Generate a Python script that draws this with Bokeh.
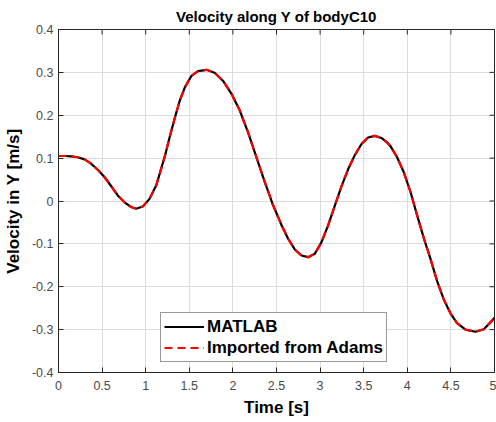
import math
from bokeh.plotting import figure
from bokeh.models import FixedTicker, Legend, LegendItem, Range1d
from bokeh.embed import file_html
from bokeh.resources import INLINE

title_text = "Velocity along Y of bodyC10"
x_label = "Time [s]"
y_label = "Velocity in Y [m/s]"
series_names = ["MATLAB", "Imported from Adams"]

time_s = [0.0, 0.08, 0.145, 0.22, 0.30, 0.374, 0.45, 0.527, 0.603, 0.68,
          0.757, 0.833, 0.89, 0.967, 1.044, 1.12, 1.196, 1.219, 1.276, 1.334,
          1.391, 1.449, 1.525, 1.60, 1.697, 1.79, 1.888, 1.984, 2.079, 2.174,
          2.27, 2.366, 2.461, 2.518, 2.557, 2.633, 2.71, 2.787, 2.862, 2.94,
          3.016, 3.092, 3.169, 3.245, 3.321, 3.398, 3.475, 3.55, 3.627, 3.704,
          3.76, 3.807, 3.883, 3.96, 4.037, 4.112, 4.19, 4.266, 4.342, 4.419,
          4.495, 4.571, 4.668, 4.782, 4.877, 4.972, 5.0]
vel_matlab = [0.105, 0.105, 0.104, 0.102, 0.097, 0.087, 0.073, 0.056, 0.035,
              0.013, -0.003, -0.014, -0.018, -0.013, 0.005, 0.036, 0.088,
              0.104, 0.150, 0.194, 0.234, 0.265, 0.292, 0.303, 0.306, 0.299,
              0.280, 0.250, 0.211, 0.160, 0.102, 0.044, -0.010, -0.037,
              -0.056, -0.088, -0.113, -0.127, -0.131, -0.123, -0.096, -0.057,
              -0.011, 0.034, 0.074, 0.107, 0.133, 0.148, 0.152, 0.147, 0.138,
              0.128, 0.102, 0.067, 0.021, -0.033, -0.087, -0.135, -0.187,
              -0.230, -0.262, -0.285, -0.300, -0.305, -0.299, -0.279, -0.272]
vel_adams = list(vel_matlab)

x_ticks = [0, 0.5, 1, 1.5, 2, 2.5, 3, 3.5, 4, 4.5, 5]
x_tick_labels = ["0", "0.5", "1", "1.5", "2", "2.5", "3", "3.5", "4", "4.5", "5"]
y_ticks = [-0.4, -0.3, -0.2, -0.1, 0, 0.1, 0.2, 0.3, 0.4]
y_tick_labels = ["-0.4", "-0.3", "-0.2", "-0.1", "0", "0.1", "0.2", "0.3", "0.4"]

FONT = "Liberation Sans"
AX = "#262626"
LBL = "#4a4a4a"

x_lo, x_hi = x_ticks[0], x_ticks[-1]
y_lo, y_hi = y_ticks[0], y_ticks[-1]

p = figure(width=496, height=422, output_backend="svg", toolbar_location=None,
           x_range=Range1d(x_lo, x_hi), y_range=Range1d(y_lo, y_hi),
           min_border_left=58, min_border_right=2, min_border_top=29,
           min_border_bottom=50)
p.title.text = title_text
p.title.align = "center"
p.title.text_font = FONT
p.title.text_font_size = "15px"
p.title.text_font_style = "bold"
p.title.text_color = "black"

p.outline_line_color = AX
p.background_fill_color = "white"
p.border_fill_color = "white"

p.xaxis.ticker = FixedTicker(ticks=x_ticks)
p.yaxis.ticker = FixedTicker(ticks=y_ticks)
p.xaxis.major_label_overrides = {t: l for t, l in zip(x_ticks, x_tick_labels)}
p.yaxis.major_label_overrides = {t: l for t, l in zip(y_ticks, y_tick_labels)}
p.xaxis.axis_label = x_label
p.yaxis.axis_label = y_label
for ax in (p.xaxis, p.yaxis):
    ax.axis_label_text_font = FONT
    ax.axis_label_text_font_size = "17px"
    ax.axis_label_text_font_style = "bold"
    ax.axis_label_text_color = "black"
    ax.major_label_text_font = FONT
    ax.major_label_text_font_size = "12.5px"
    ax.major_label_text_color = LBL
    ax.major_tick_in = 5
    ax.major_tick_out = 0
    ax.minor_tick_line_color = None
    ax.axis_line_color = AX
    ax.major_tick_line_color = AX
p.xaxis.major_label_standoff = 8
p.yaxis.major_label_standoff = 5
p.xaxis.axis_label_standoff = 5
p.yaxis.axis_label_standoff = 6

p.grid.grid_line_color = "#dcdcdc"
p.grid.grid_line_width = 1
p.xgrid.ticker = FixedTicker(ticks=x_ticks)
p.ygrid.ticker = FixedTicker(ticks=y_ticks)

# inward ticks on the top and right box edges
p.ray(x=x_ticks, y=[y_hi] * len(x_ticks), length=5, length_units="screen",
      angle=-math.pi / 2, line_color=AX, line_width=1)
p.ray(x=[x_hi] * len(y_ticks), y=y_ticks, length=5, length_units="screen",
      angle=math.pi, line_color=AX, line_width=1)

r1 = p.line(time_s, vel_matlab, line_color="black", line_width=2.2)
r2 = p.line(time_s, vel_adams, line_color="#ff0000", line_width=2.2,
            line_dash="8 5")

legend = Legend(items=[LegendItem(label=series_names[0], renderers=[r1]),
                       LegendItem(label=series_names[1], renderers=[r2])],
                location=(102, 10))
legend.label_text_font = FONT
legend.label_text_font_size = "17px"
legend.label_text_font_style = "bold"
legend.label_text_color = "black"
legend.border_line_color = "#333333"
legend.border_line_width = 1
legend.background_fill_alpha = 1
legend.glyph_width = 40
legend.glyph_height = 21
legend.label_height = 21
legend.label_standoff = 3
legend.padding = 3
legend.spacing = 0
legend.margin = 0
p.add_layout(legend, "center")

open("out.html", "w").write(file_html(p, INLINE))
